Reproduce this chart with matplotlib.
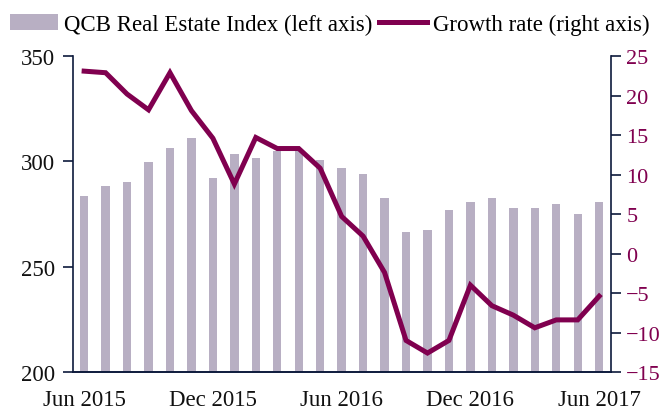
import matplotlib.pyplot as plt
import numpy as np

months = ["Jun 2015", "Jul 2015", "Aug 2015", "Sep 2015", "Oct 2015", "Nov 2015",
          "Dec 2015", "Jan 2016", "Feb 2016", "Mar 2016", "Apr 2016", "May 2016",
          "Jun 2016", "Jul 2016", "Aug 2016", "Sep 2016", "Oct 2016", "Nov 2016",
          "Dec 2016", "Jan 2017", "Feb 2017", "Mar 2017", "Apr 2017", "May 2017",
          "Jun 2017"]
index_vals = [283.5, 288.2, 290.2, 299.7, 306.3, 311.1, 292.1, 303.5, 301.6, 304.8,
              305.0, 300.6, 296.8, 294.0, 282.5, 266.3, 267.3, 276.8, 280.6, 282.5,
              277.8, 277.8, 279.7, 274.9, 280.6]
growth = [23.1, 22.9, 20.2, 18.2, 22.9, 18.1, 14.6, 8.8, 14.7, 13.3,
          13.3, 10.8, 4.7, 2.2, -2.4, -11.0, -12.6, -11.0, -4.0, -6.6,
          -7.8, -9.4, -8.4, -8.4, -5.4]
shown_labels = ["Jun 2015", "Dec 2015", "Jun 2016", "Dec 2016", "Jun 2017"]

bar_col = "#b8afc3"
line_col = "#80004f"
axis_col = "#0d1a3c"

plt.rcParams['font.family'] = ['Liberation Serif', 'DejaVu Serif']

fig = plt.figure(figsize=(6.67, 4.14), dpi=100)
ax = fig.add_axes([0.1094, 0.099, 0.8066, 0.763])
ax2 = ax.twinx()

x = np.arange(len(months))
bars = ax.bar(x, index_vals, width=0.39, color=bar_col, zorder=1)
line, = ax2.plot(x, growth, color=line_col, linewidth=3.6, solid_joinstyle='miter')

ax.set_ylim(200, 350)
ax.set_yticks([200, 250, 300, 350])
ax2.set_ylim(-15, 25)
ax2.set_yticks(np.arange(-15, 26, 5))
ax.set_xlim(-0.52, 24.55)
ax.set_xticks([months.index(m) for m in shown_labels])
ax.set_xticklabels(shown_labels)

for a in (ax, ax2):
    a.spines['top'].set_visible(False)
    for s in ('left', 'right', 'bottom'):
        a.spines[s].set_color(axis_col)
        a.spines[s].set_linewidth(1.2)
ax.spines['right'].set_visible(False)
ax2.spines['left'].set_visible(False)

ax.tick_params(axis='y', direction='out', length=7, width=1.2, color=axis_col,
               labelsize=16.5, labelcolor='#111111', pad=6)
ax.tick_params(axis='x', length=0, labelsize=16.5, labelcolor='#111111', pad=12)
ax2.tick_params(axis='y', direction='out', length=7, width=1.2, color=axis_col,
                labelsize=16, labelcolor=line_col, pad=4)
ax2.set_zorder(ax.get_zorder() + 1)

fig.legend([bars, line], ["QCB Real Estate Index (left axis)", "Growth rate (right axis)"],
           loc='center left', bbox_to_anchor=(10 / 667, 1 - 25 / 414), ncol=2, frameon=False,
           fontsize=16.5, handlelength=2.1, handletextpad=0.25, columnspacing=0.3,
           borderpad=0, borderaxespad=0)

fig.savefig("out.png", dpi=100)
